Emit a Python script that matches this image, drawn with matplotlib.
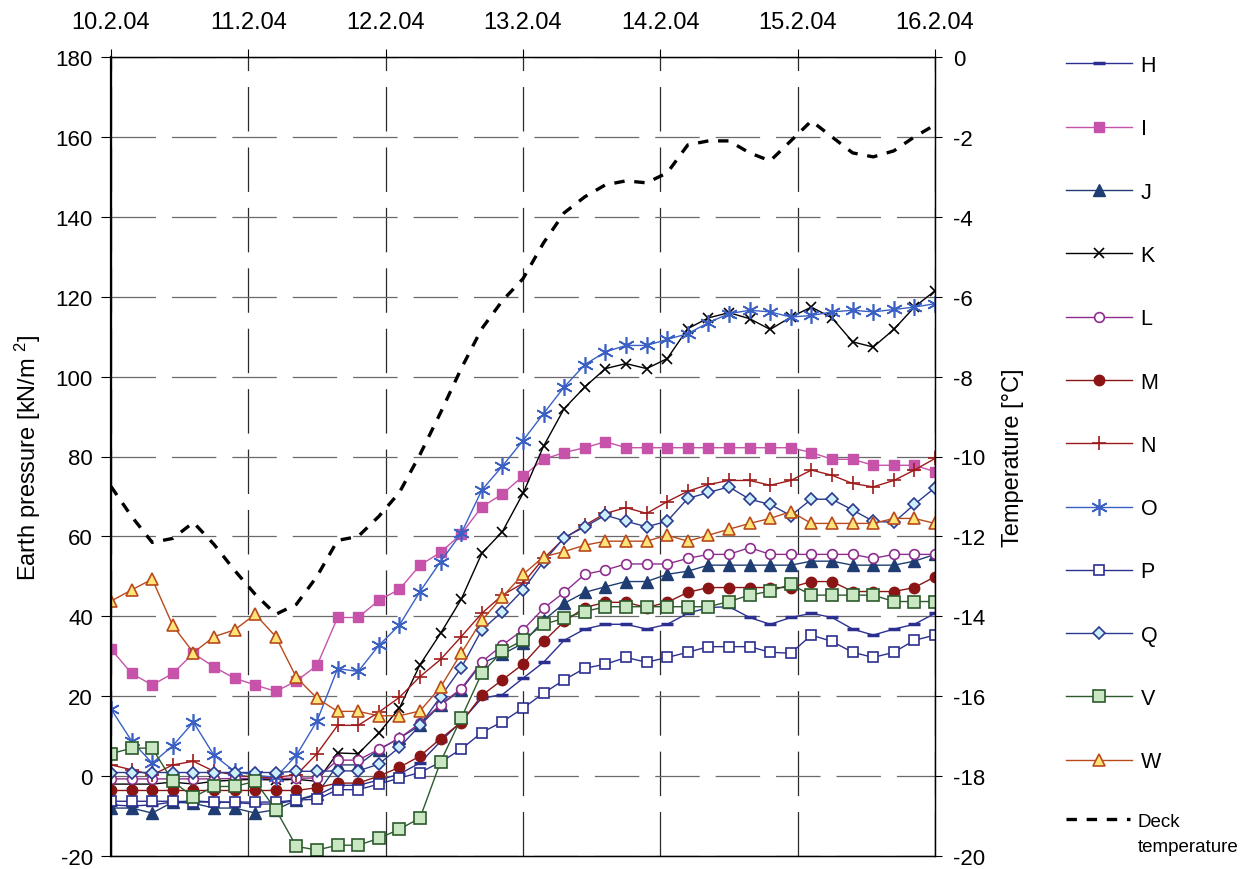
import numpy as np
import matplotlib
matplotlib.use('Agg')
import matplotlib.pyplot as plt

plt.rcParams['font.family'] = ['Liberation Sans', 'DejaVu Sans']
plt.rcParams['mathtext.default'] = 'regular'
plt.rcParams['lines.scale_dashes'] = False
plt.rcParams['axes.unicode_minus'] = False

# readings every 3.6 h, starting 10.2.04 00:00
hours = np.arange(41) * 3.6
days = hours / 24.0
date_labels = ['10.2.04', '11.2.04', '12.2.04', '13.2.04', '14.2.04', '15.2.04', '16.2.04']

# earth pressure [kN/m2]
H = [-7.2, -7.5, -7.2, -6.5, -6.2, -6.5, -6.6, -7, -7, -6, -4.8, -2.3, -2.3, -1, 0.5, 3.3, 8.7, 13.7, 19.5, 20.4,
     24.5, 28.5, 34, 36.8, 38, 38, 36.8, 38, 40.75, 42.2, 42.4, 39.7, 38, 39.7, 40.75, 39.7, 36.8, 35.3, 36.8, 38, 40.75]
I = [31.8, 25.7, 22.8, 25.7, 30.75, 27.3, 24.5, 22.8, 21.2, 23.8, 27.7, 39.7, 39.7, 44, 46.75, 52.8, 56, 60.6, 67.4, 70.6,
     75.1, 79.3, 81, 82.2, 83.7, 82.2, 82.2, 82.2, 82.2, 82.2, 82.2, 82.2, 82.2, 82.2, 81, 79.3, 79.3, 77.8, 77.8, 77.8, 76.2]
J = [-8, -8, -9.25, -6.5, -6.8, -8, -8, -9.25, -8.4, -6, -4.5, 2.8, 2.8, 6.6, 9.5, 12.7, 17.8, 21.6, 28.25, 30.5,
     33.25, 39, 43.25, 46, 47.4, 48.7, 48.7, 50.5, 51.3, 52.8, 52.8, 52.8, 52.8, 52.8, 53.8, 53.8, 52.8, 52.8, 52.8, 53.8, 55.5]
K = [-2, -2, -2, -1.5, -2, -1.3, -1, -0.8, -1, -0.8, -1.3, 5.8, 5.6, 10.8, 17, 27.9, 35.75, 44.25, 55.75, 61.2,
     70.75, 82.6, 92, 97.4, 102, 103.25, 102, 104.5, 112, 114.7, 116, 114.5, 111.8, 114.9, 117.4, 114.7, 108.7, 107.4, 111.8, 117.4, 121.5]
L = [-0.7, -0.7, -0.7, -0.7, -0.7, -0.7, -0.6, -0.6, -0.6, -0.5, -0.5, 4, 4, 6.7, 9.5, 13.25, 17.9, 21.9, 28.6, 32.8,
     36.6, 42, 46, 50.5, 51.6, 53.1, 53.1, 53.1, 54.5, 55.5, 55.5, 57.2, 55.5, 55.5, 55.5, 55.5, 55.5, 54.5, 55.5, 55.5, 55.5]
M = [-3.6, -3.6, -3.6, -3.6, -3.6, -3.6, -3.6, -3.6, -3.6, -3.6, -2.9, -1.75, -1.75, 0, 2.2, 5, 9.4, 13.4, 20.2, 24.1,
     28, 33.7, 38.7, 42.2, 43.5, 43.5, 42.2, 43.5, 46, 47.2, 47.2, 47.2, 47.2, 47.2, 48.7, 48.7, 46.2, 46.2, 46.2, 47.2, 49.9]
N = [2.8, 1.6, 0.3, 2.8, 3.7, 1.2, 0.3, -0.3, -0.3, 0.3, 5.6, 12.7, 12.7, 16, 19.7, 24.9, 29.2, 34.9, 40.75, 45.3,
     48.25, 54.5, 59.5, 62.8, 65.75, 67.2, 65.75, 68.7, 71.3, 73, 74, 74, 72.8, 74, 76.6, 75.3, 73.25, 72.4, 74, 76.6, 79.5]
O = [16.8, 8.8, 3.25, 7.6, 13.5, 5.2, 1.2, 0.2, -0.3, 5.2, 13.8, 26.9, 26.2, 32.7, 37.8, 46.2, 53.7, 60.75, 71.6, 77.6,
     84, 90.75, 97.4, 103, 106.2, 107.8, 107.8, 109.3, 110.75, 113.5, 115.75, 116.6, 116.2, 114.9, 115.3, 116.2, 116.6, 116.2, 116.8, 117.4, 118.25]
P = [-6.3, -6.3, -6.3, -6.3, -6.5, -6.5, -6.5, -6.5, -6.5, -6, -5.8, -3.4, -3.4, -2, -0.5, 0.9, 3.5, 6.75, 10.9, 13.6,
     17, 20.75, 24.1, 27, 28, 29.7, 28.5, 29.7, 31, 32.4, 32.4, 32.4, 31, 30.75, 35.3, 33.7, 31, 29.7, 31, 34, 35.3]
Q = [0.9, 0.9, 0.9, 0.9, 0.9, 0.9, 0.9, 0.9, 0.9, 1.2, 1.2, 1.3, 1.3, 3, 7.2, 12.7, 19.9, 27.1, 36.6, 41.2,
     46.6, 53.7, 59.7, 62.4, 65.3, 63.8, 62.4, 63.8, 69.5, 71, 72.4, 69.3, 68, 65.2, 69.3, 69.3, 66.6, 63.8, 63.5, 68, 72.2]
V = [5.6, 7, 7, -1.3, -5.25, -2.6, -2.6, -1.3, -8.4, -17.6, -18.5, -17.3, -17.3, -15.6, -13.3, -10.5, 3.6, 14.5, 25.75, 31.3,
     34, 38, 39.5, 41.2, 42.4, 42.4, 42.4, 42.4, 42.4, 42.4, 43.7, 45.3, 46.3, 48, 45.3, 45.3, 45.3, 45.3, 43.7, 43.7, 43.7]
W = [43.8, 46.6, 49.3, 37.7, 30.9, 34.9, 36.6, 40.5, 34.9, 24.7, 19.5, 16.2, 16.2, 15.1, 15.1, 16.3, 22.3, 30.75, 39, 44.9,
     50.5, 54.9, 56.2, 57.8, 58.8, 58.8, 58.8, 60.3, 58.8, 60.3, 61.8, 63.25, 64.5, 66.2, 63.25, 63.25, 63.25, 63.25, 64.5, 64.5, 63.25]

# deck temperature [°C]
deck_temp = [-10.75, -11.5, -12.15, -12.05, -11.65, -12.2, -12.85, -13.45, -13.95, -13.7, -13.0, -12.1, -12.0, -11.5, -10.9,
             -9.95, -8.9, -7.8, -6.8, -6.1, -5.55, -4.65, -3.9, -3.5, -3.2, -3.1, -3.15, -2.9, -2.2, -2.1, -2.1,
             -2.4, -2.6, -2.1, -1.6, -2.0, -2.4, -2.5, -2.35, -2.0, -1.7]

series = [('H', H), ('I', I), ('J', J), ('K', K), ('L', L), ('M', M), ('N', N),
          ('O', O), ('P', P), ('Q', Q), ('V', V), ('W', W)]

styles = {
    'H': dict(color='#2B2F8F', marker='_', ms=9, mew=2.5),
    'I': dict(color='#C652A9', marker='s', ms=7, mec='#C652A9', mfc='#C652A9'),
    'J': dict(color='#1F3D73', marker='^', ms=8, mec='#1F3D73', mfc='#1F3D73'),
    'K': dict(color='black', marker='x', ms=7.5, mew=1.2),
    'L': dict(color='#8E2D8E', marker='o', ms=7, mfc='white', mec='#8E2D8E', mew=1.2),
    'M': dict(color='#8B1515', marker='o', ms=7.5, mfc='#8B1515', mec='#8B1515'),
    'N': dict(color='#9E1A1A', marker='+', ms=10, mew=1.2),
    'O': dict(color='#3A60C4', marker=(6, 2, 0), ms=12, mew=1.2),
    'P': dict(color='#2B2F8F', marker='s', ms=7, mfc='white', mec='#2B2F8F', mew=1.2),
    'Q': dict(color='#2B3A8F', marker='D', ms=6.5, mfc='#CCEFFB', mec='#2B3A8F', mew=1.2),
    'V': dict(color='#2C5A2C', marker='s', ms=8, mfc='#C9E7C3', mec='#2C5A2C', mew=1.2),
    'W': dict(color='#B84A1C', marker='^', ms=9, mfc='#FFE47A', mec='#B84A1C', mew=1.2),
}

fig = plt.figure(figsize=(12.52, 8.70), dpi=100)
ax = fig.add_axes([111 / 1252, 1 - 857 / 870, (935 - 111) / 1252, (857 - 58) / 870])
ax.set_xlim(0, 6)
ax.set_ylim(-20, 180)

handles = []
for name, vals in series:
    h, = ax.plot(days, vals, lw=1.0, label=name, **styles[name])
    handles.append(h)

ax.set_axisbelow(True)
ax.grid(axis='y', color='#6a6a6a', lw=0.9, linestyle=(0, (32, 11.5)))
ax.grid(axis='x', color='#2a2a2a', lw=0.9, linestyle=(0, (32, 11.5)))

ax.xaxis.tick_top()
ax.set_xticks(range(7))
ax.set_xticklabels(date_labels)
ax.tick_params(axis='x', direction='out', length=6, labelsize=17, pad=11)
ax.set_yticks(range(-20, 181, 20))
ax.tick_params(axis='y', direction='out', length=7, labelsize=16, pad=6)
ax.set_ylabel('Earth pressure [kN/m $^{2}$]', fontsize=17)
ax.yaxis.set_label_coords(-0.083, 0.5)
for s in ax.spines.values():
    s.set_linewidth(1.0)
ax.spines['left'].set_linewidth(1.6)

ax2 = ax.twinx()
ax2.set_ylim(-20, 0)
ax2.set_yticks(range(-20, 1, 2))
ax2.tick_params(axis='y', direction='out', length=5, labelsize=16, pad=8)
deck, = ax2.plot(days, deck_temp, color='black', lw=2.4, linestyle=(0, (7.5, 7)))
ax2.set_ylabel('Temperature [°C]', fontsize=17)
ax2.yaxis.set_label_coords(1.0813, 0.5)

fig.legend(handles, [n for n, _ in series], loc='upper left', bbox_to_anchor=(1066 / 1252, 1 - 56 / 870),
           frameon=False, fontsize=15.5, handlelength=3.07, handletextpad=0.4, labelspacing=1.965,
           borderpad=0, borderaxespad=0, numpoints=1)
leg2 = fig.legend([deck], ['Deck\ntemperature'], loc='upper left', bbox_to_anchor=(1066 / 1252, 1 - 814 / 870),
                  frameon=False, fontsize=13.5, handlelength=3.4, handletextpad=0.4, borderpad=0, borderaxespad=0)
for t in leg2.get_texts():
    t.set_linespacing(1.6)
# put the dash sample level with the first text line, as in the source chart
for ln in leg2.get_lines():
    ln.set_ydata(np.asarray(ln.get_ydata()) + 11)

fig.savefig('out.png', dpi=100)
